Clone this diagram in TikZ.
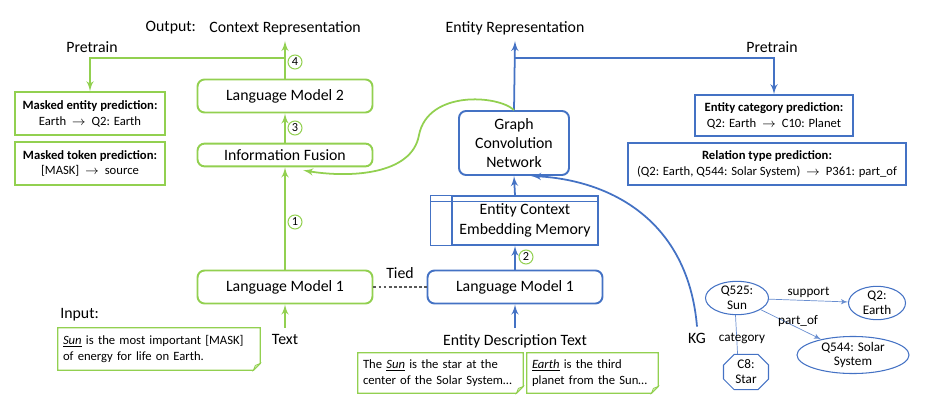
\documentclass[tikz,border=0pt]{standalone}
\usepackage{fontspec}
\setmainfont{Carlito}
\usepackage{tikz}
\usepackage{xcolor}
\usetikzlibrary{shapes,arrows,positioning}
\definecolor{lgreen}{RGB}{146,208,80}
\definecolor{kblue}{RGB}{68,114,196}
\tikzstyle{greenbox} = [rectangle, draw=lgreen, line width=1.1pt,
    minimum width=3.5cm, minimum height=0.66cm, text centered, rounded corners=4pt]
\tikzstyle{bluebox} = [greenbox, draw=kblue]
\tikzstyle{taskgreen} = [rectangle, draw=lgreen, line width=0.8pt, align=center,
    inner sep=1pt, font=\fontsize{7.2}{9}\selectfont]
\tikzstyle{taskblue} = [taskgreen, draw=kblue]
\tikzstyle{notebox} = [rectangle, align=left, inner xsep=0.1cm,
    font=\fontsize{7.2}{9.5}\selectfont]
\tikzstyle{stepnum} = [circle, draw=lgreen, line width=0.6pt, inner sep=0pt,
    minimum size=0.28cm, font=\fontsize{7}{7}\selectfont]
\tikzstyle{kgnode} = [ellipse, draw=kblue, line width=0.6pt, inner sep=0pt,
    align=center, font=\fontsize{7.5}{8.5}\selectfont]
\tikzset{
  greenarrow/.style={->, >=latex', draw=lgreen, line width=1pt},
  bluearrow/.style={->, >=latex', draw=kblue, line width=1pt},
  kgarrow/.style={->, >=latex', draw=kblue!80, line width=0.4pt},
  kglabel/.style={text=black, font=\fontsize{7.5}{8.5}\selectfont},
	}
\newcommand{\dogear}[1]{%
  \draw[lgreen, line width=0.7pt] (#1.north west) -- (#1.north east)
    -- ([yshift=0.14cm]#1.south east) -- ([xshift=-0.14cm]#1.south east)
    -- (#1.south west) -- cycle;
  \filldraw[lgreen, line width=0.4pt, fill=lgreen!40] ([yshift=0.14cm]#1.south east)
    -- ([xshift=-0.14cm]#1.south east) -- ([xshift=-0.1cm,yshift=0.1cm]#1.south east) -- cycle;}

\begin{document}
\begin{tikzpicture}[x=0.02cm, y=-0.02cm, node distance=1cm, font=\fontsize{9}{11}\selectfont]
    \useasboundingbox (0,0) rectangle (925,405);
    % text side
    \node(ctxrep) at (285,28){Context Representation};
    \node[left=0.02cm of ctxrep](output){Output:};
    \node[greenbox](lmtwo) at (285,96){Language Model 2};
    \node[greenbox, minimum height=0.4cm](fusion) at (285,155){Information Fusion};
    \node[greenbox](lmone) at (285,287){Language Model 1};
    \node(text) at (285,339){Text};
    \draw[greenarrow](text.north)--(lmone.south);
    \draw[greenarrow](lmone.north)--(fusion.south);
    \draw[greenarrow](fusion.north)--(lmtwo.south);
    \draw[greenarrow](lmtwo.north)--(ctxrep.south);
    \node[stepnum](one) at (295,222){1};
    \node[stepnum](three) at (295,128){3};
    \node[stepnum](four) at (295,62){4};
    \node(pretrainl) at (92,47){Pretrain};
    \node[taskgreen, minimum width=3cm, minimum height=0.86cm](maskent) at (90,113.5){\textbf{Masked entity prediction:}\\Earth ~$\rightarrow$~ Q2: Earth};
    \node[taskgreen, minimum width=3cm, minimum height=0.86cm](masktok) at (90,163.5){\textbf{Masked token prediction:}\\{[MASK]} ~$\rightarrow$~ source};
    \coordinate(gsplit) at (285,58);
    \draw[greenarrow](gsplit)-|(maskent.north);
    \node[notebox, text width=3.84cm, minimum height=0.84cm](input) at (159,349){\underline{\textit{Sun}} is the most important [MASK]\\of energy for life on Earth.};
    \dogear{input}
    \node[above=0pt of input.north west, anchor=south west, xshift=-2pt](inputlbl){Input:};
    % entity side
    \node(entrep) at (515,28){Entity Representation};
    \node[bluebox](lmblue) at (515,287){Language Model 1};
    \draw[gray!70!black, line width=0.6pt, dash pattern=on 1.6pt off 1.3pt](lmone.east)--node[above, yshift=1pt, text=black]{Tied}(lmblue.west);
    \node(desc) at (515,341){Entity Description Text};
    \draw[bluearrow](desc.north)--(lmblue.south);
    \node[notebox, text width=3.1cm, minimum height=0.8cm](noteone) at (440.5,373){The \underline{\textit{Sun}} is the star at the\\center of the Solar System\ldots};
    \dogear{noteone}
    \node[notebox, text width=2.42cm, minimum height=0.8cm](notetwo) at (592.5,373){\underline{\textit{Earth}} is the third\\planet from the Sun\ldots};
    \dogear{notetwo}
    \node[rectangle, draw=kblue, line width=0.8pt, minimum width=2.92cm, minimum height=0.98cm, align=center](memory) at (525,220.5){Entity Context\\Embedding Memory};
    \draw[kblue, line width=0.8pt](memory.north west)--++(-21,0)|-(memory.south west);
    \draw[kblue, line width=0.8pt]([yshift=-0.12cm]memory.north west)++(-21,0)--([yshift=-0.12cm]memory.north east);
    \draw[bluearrow](lmblue.north)--(lmblue.north |- memory.south);
    \node[stepnum](two) at (526,257){2};
    \node[bluebox, minimum width=2.2cm, minimum height=1.28cm, align=center](gcn) at (514,143){Graph\\Convolution\\Network};
    \draw[bluearrow](lmblue.north |- memory.north)--(gcn.south);
    \draw[bluearrow](gcn.north)--(entrep.south);
    \draw[lgreen, line width=1pt, ->, >=latex'](gcn.north) .. controls (498,95) and (428,90) .. (419,135)
      .. controls (412,175) and (350,178) .. ([xshift=0.36cm, yshift=-0.06cm]fusion.south);
    \node(pretrainr) at (772,47){Pretrain};
    \node[taskblue, minimum width=3.16cm, minimum height=0.82cm](catpred) at (774,115.5){\textbf{Entity category prediction:}\\Q2: Earth ~$\rightarrow$~ C10: Planet};
    \node[taskblue, minimum width=5.56cm, minimum height=0.84cm](relpred) at (767,164){\textbf{Relation type prediction:}\\(Q2: Earth, Q544: Solar System) ~$\rightarrow$~ P361: part\_of};
    \coordinate(bsplit) at (515,58);
    \draw[bluearrow](bsplit)-|(catpred.north);
    % knowledge graph
    \node(kg) at (697,338){KG};
    \draw[bluearrow](kg.north) .. controls (688,220) and (610,180) .. ([xshift=0.34cm]gcn.south);
    \node[kgnode, minimum width=1.26cm, minimum height=0.54cm](sun) at (737,298){Q525:\\Sun};
    \node[kgnode, minimum width=1.14cm, minimum height=0.54cm](earth) at (877,303){Q2:\\Earth};
    \node[kgnode, minimum width=2.24cm, minimum height=0.64cm](solar) at (853,355){Q544: Solar\\System};
    \node[chamfered rectangle, chamfered rectangle xsep=0.1cm, draw=kblue, line width=0.6pt, inner sep=0pt,
      minimum width=0.9cm, minimum height=0.64cm, align=center, font=\fontsize{7.5}{8.5}\selectfont](star) at (746,372){C8:\\Star};
    \draw[kgarrow](sun)--node[kglabel, above=-2pt]{support}(earth);
    \draw[kgarrow](sun)--node[kglabel, pos=0.62, above=-3pt]{part\_of}(solar);
    \draw[kblue!80, line width=0.4pt](sun.265)--node[kglabel, pos=0.6, xshift=3pt]{category}(star.115);
  \end{tikzpicture}
\end{document}
